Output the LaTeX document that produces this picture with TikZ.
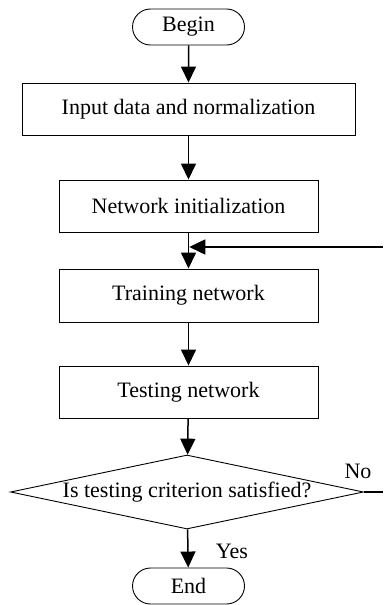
\documentclass[tikz,border=0pt]{standalone}
\usepackage{fontspec}
\setmainfont{Liberation Serif}
\usetikzlibrary{arrows.meta,shapes.geometric,shapes.misc}
\begin{document}
\begin{tikzpicture}[x=1pt,y=-1pt,
  every node/.style={font=\fontsize{22}{26}\selectfont},
  terminal/.style={draw,line width=0.9pt,rounded rectangle,minimum width=112pt,minimum height=36pt,inner sep=0pt},
  procbox/.style={draw,line width=0.9pt,rectangle,minimum height=52pt,inner sep=0pt},
  decision/.style={draw,line width=0.9pt,diamond,shape aspect=4.77,minimum width=353pt,minimum height=74pt,inner sep=0pt},
  arr/.style={line width=1.5pt,-{Triangle[width=15pt,length=16pt]}},
  plain/.style={line width=1.5pt}]
\useasboundingbox (0,0) rectangle (383,605);
\node[terminal] (begin) at (188.5,27) {Begin};
\node[procbox,minimum width=333pt] (input) at (188.5,109) {Input data and normalization};
\node[procbox,minimum width=259pt] (init) at (188.5,206) {Network initialization};
\node[procbox,minimum width=259pt,minimum height=53pt] (train) at (188.5,295.5) {Training network};
\node[procbox,minimum width=259pt] (test) at (188.5,392) {Testing network};
\node[decision] (dec) at (187,492) {Is testing criterion satisfied?};
\node[terminal] (end) at (188.5,586) {End};
\node (yes) at (232,551) {Yes};
\node (no) at (358,471) {No};
\coordinate (fbin) at (383,247);
\coordinate (noout) at (383,492);
\draw[arr] (begin) -- (input);
\draw[arr] (input) -- (init);
\draw[arr] (init) -- (train);
\draw[arr] (train) -- (test);
\draw[arr] (test) -- (dec);
\draw[arr] (dec) -- (end);
\draw[arr] (fbin) -- ([xshift=0.75pt]fbin -| init.south);
\draw[plain] (dec.east) -- (noout);
\end{tikzpicture}
\end{document}
